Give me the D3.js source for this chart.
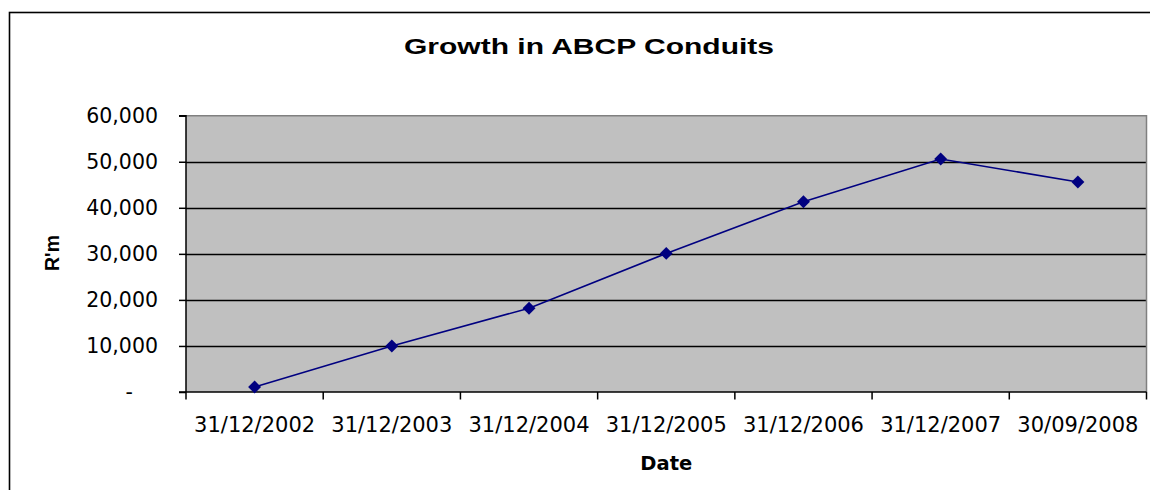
<!DOCTYPE html>
<html>
<head>
<meta charset="utf-8">
<script src="https://cdn.jsdelivr.net/npm/d3@7"></script>
<style>
  body { margin: 0; background: #fff; }
  svg { display: block; }
</style>
</head>
<body>
<svg id="chart"></svg>
<script>
// data
var dates = ["31/12/2002", "31/12/2003", "31/12/2004", "31/12/2005", "31/12/2006", "31/12/2007", "30/09/2008"];
var conduits = [1100, 10000, 18200, 30100, 41300, 50600, 45600];
var yTicks = [0, 10000, 20000, 30000, 40000, 50000, 60000];

var W = 1150, H = 490;
var plot = {left: 186, top: 115.7, right: 1146.5, bottom: 392};

var lineColor = "#000080";
var plotBg = "#c0c0c0";
var borderGrey = "#808080";
var tickFont = "'DejaVu Sans', sans-serif";

var svg = d3.select("#chart").attr("width", W).attr("height", H);

// outer chart frame (runs off the right and bottom of the picture)
svg.append("rect")
    .attr("x", 9.5).attr("y", 12.5)
    .attr("width", W).attr("height", H)
    .attr("fill", "#fff")
    .attr("stroke", "#000").attr("stroke-width", 1.6);

//scales
var x = d3.scaleBand().domain(dates).range([plot.left, plot.right]).padding(0);
var y = d3.scaleLinear().domain([0, 60000]).range([plot.bottom, plot.top]);

//plot area
svg.append("rect")
    .attr("x", plot.left).attr("y", plot.top)
    .attr("width", plot.right - plot.left).attr("height", plot.bottom - plot.top)
    .attr("fill", plotBg);

//gridlines
svg.append("g").selectAll("line")
    .data(yTicks.filter(function (d) { return d > 0 && d < 60000; }))
    .enter().append("line")
    .attr("x1", plot.left).attr("x2", plot.right)
    .attr("y1", function (d) { return Math.round(y(d)) + 0.5; })
    .attr("y2", function (d) { return Math.round(y(d)) + 0.5; })
    .attr("stroke", "#000").attr("stroke-width", 1.3);

// grey border top and right
svg.append("path")
    .attr("d", "M" + plot.left + "," + (plot.top) + "H" + plot.right + "V" + plot.bottom)
    .attr("fill", "none").attr("stroke", borderGrey).attr("stroke-width", 1.5);

//y axis
var yAxis = d3.axisLeft(y)
    .tickValues(yTicks)
    .tickSize(7)
    .tickPadding(21)
    .tickFormat(function (d) { return d === 0 ? "-" : d3.format(",")(d); });

var gy = svg.append("g")
    .attr("transform", "translate(" + plot.left + ",0)")
    .call(yAxis);
gy.select(".domain").attr("stroke", "#000").attr("stroke-width", 1.5)
    .attr("d", "M-7," + plot.top + "H0V" + plot.bottom);
gy.selectAll(".tick line").attr("stroke", "#000").attr("stroke-width", 1.5);
gy.selectAll(".tick text")
    .attr("font-family", tickFont).attr("font-size", "20.5px").attr("fill", "#000");
gy.selectAll(".tick text").filter(function (d) { return d === 0; })
    .attr("x", -53);

//x axis
var gx = svg.append("g");
gx.append("line")
    .attr("x1", plot.left - 7).attr("x2", plot.right)
    .attr("y1", plot.bottom).attr("y2", plot.bottom)
    .attr("stroke", "#000").attr("stroke-width", 1.5);
var edges = dates.map(function (d) { return x(d); }).concat([x.range()[1]]);
gx.selectAll(".xtick")
    .data(edges)
    .enter().append("line")
    .attr("class", "xtick")
    .attr("x1", function (d) { return d; }).attr("x2", function (d) { return d; })
    .attr("y1", plot.bottom).attr("y2", plot.bottom + 7.5)
    .attr("stroke", "#000").attr("stroke-width", 1.5);
gx.selectAll(".xlabel")
    .data(dates)
    .enter().append("text")
    .attr("class", "xlabel")
    .attr("x", function (d) { return x(d) + x.bandwidth() / 2; })
    .attr("y", 432)
    .attr("text-anchor", "middle")
    .attr("font-family", tickFont).attr("font-size", "21px")
    .text(function (d) { return d; });

//series line
var line = d3.line()
    .x(function (d, i) { return x(dates[i]) + x.bandwidth() / 2; })
    .y(function (d) { return y(d); });

svg.append("path")
    .datum(conduits)
    .attr("d", line)
    .attr("fill", "none")
    .attr("stroke", lineColor)
    .attr("stroke-width", 1.6);

//diamond markers
var diamond = d3.symbol().type(d3.symbolSquare).size(84);
svg.selectAll(".marker")
    .data(conduits)
    .enter().append("path")
    .attr("class", "marker")
    .attr("d", diamond)
    .attr("transform", function (d, i) {
        return "translate(" + (x(dates[i]) + x.bandwidth() / 2) + "," + y(d) + ") rotate(45)";
    })
    .attr("fill", lineColor);

//title and axis labels
svg.append("text")
    .attr("x", 589).attr("y", 54)
    .attr("text-anchor", "middle")
    .attr("font-family", "'Liberation Sans', Arial, sans-serif")
    .attr("font-weight", "bold")
    .attr("font-size", "22px")
    .attr("textLength", 370)
    .attr("lengthAdjust", "spacingAndGlyphs")
    .text("Growth in ABCP Conduits");

svg.append("text")
    .attr("x", (plot.left + plot.right) / 2).attr("y", 470)
    .attr("text-anchor", "middle")
    .attr("font-family", "'DejaVu Sans', sans-serif")
    .attr("font-weight", "bold")
    .attr("font-size", "19.5px")
    .text("Date");

svg.append("text")
    .attr("transform", "translate(59," + 253 + ") rotate(-90)")
    .attr("text-anchor", "middle")
    .attr("font-family", "'Liberation Sans', Arial, sans-serif")
    .attr("font-weight", "bold")
    .attr("font-size", "19.5px")
    .text("R'm");
</script>
</body>
</html>
